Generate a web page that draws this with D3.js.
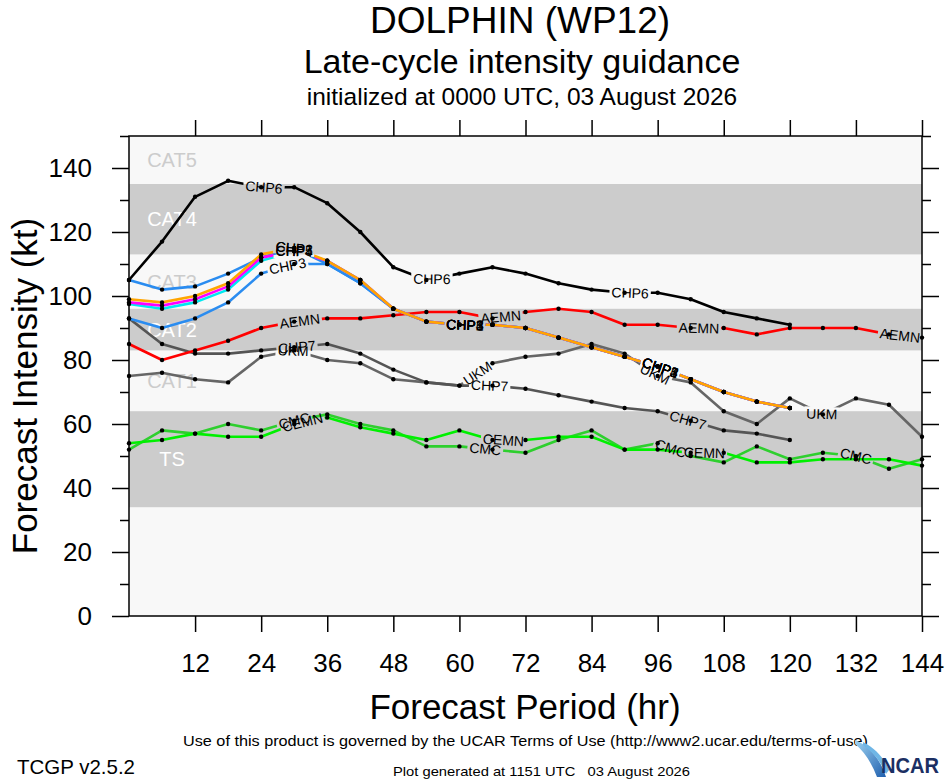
<!DOCTYPE html>
<html>
<head>
<meta charset="utf-8">
<script src="https://cdn.jsdelivr.net/npm/d3@7"></script>
<style>
	body { margin: 0; background: #fff; }
	svg { display: block; }
	text { font-family: "Liberation Sans", Arial, Helvetica, sans-serif; }
</style>
</head>
<body>
<div id="wrapper"></div>
<script>
// forecast hours (every 6 h)
const hours = [0, 6, 12, 18, 24, 30, 36, 42, 48, 54, 60, 66, 72, 78, 84, 90, 96, 102, 108, 114, 120, 126, 132, 138, 144];

// intensity guidance, kt
const chp6 = [105, 117, 131, 136, 134, 134, 129, 120, 109, 105, 107, 109, 107, 104, 102, 101, 101, 99, 95, 93, 91];
const aemn = [85, 80, 83, 86, 90, 92, 93, 93, 94, 95, 95, 93, 95, 96, 95, 91, 91, 90, 90, 88, 90, 90, 90, 88, 87];
const chp7 = [93, 85, 82, 82, 83, 84, 85, 82, 77, 73, 72, 72, 71, 69, 67, 65, 64, 61, 58, 57, 55];
const ukm = [75, 76, 74, 73, 81, 83, 80, 79, 74, 73, 72, 79, 81, 82, 85, 82, 75, 73, 64, 60, 68, 63, 68, 66, 56];
const chp1 = [105, 102, 103, 107, 112, 115, 110, 104, 96, 92, 91, 91, 90, 87, 84, 81, 78, 74, 70, 67, 65];
const chp2 = [99, 98, 100, 104, 113, 115, 111, 105, 96, 92, 91, 91, 90, 87, 84, 81, 78, 74, 70, 67, 65];
const chp3 = [93, 90, 93, 98, 107, 110, 110, 104, 96, 92, 91, 91, 90, 87, 84, 81, 78, 74, 70, 67, 65];
const chp4 = [98, 97, 99, 103, 112, 114, 111, 105, 96, 92, 91, 91, 90, 87, 84, 81, 78, 74, 70, 67, 65];
const chp5 = [97.5, 96, 98, 102, 111, 114, 111, 105, 96, 92, 91, 91, 90, 87, 84, 81, 78, 74, 70, 67, 65];
const cmc = [52, 58, 57, 60, 58, 61, 63, 60, 58, 53, 53, 52, 51, 55, 58, 52, 54, 50, 48, 53, 49, 51, 50, 46, 49];
const cemn = [54, 55, 57, 56, 56, 60, 62, 59, 57, 55, 58, 55, 55, 56, 56, 52, 52, 51, 51, 48, 48, 49, 49, 49, 47];

// where the model names sit along each line (hours)
const chp6Labels = [24.5, 55, 91];
const aemnLabels = [31, 67.5, 103.5, 140];
const chp7Labels = [30.5, 65.5, 101.5];
const ukmLabels = [29.8, 63.3, 95.5, 125.8];
const clusterLabels = [30, 61, 96.5];
const chp3Labels = [28.8, 61, 96.5];
const cmcLabels = [30, 64.7, 98.4, 132];
const cemnLabels = [31.5, 68, 104.5];

// Saffir-Simpson bands
const bandNames = ["TS", "CAT1", "CAT2", "CAT3", "CAT4", "CAT5"];
const bandLow = [34, 64, 83, 96, 113, 135];
const bandHigh = [64, 83, 96, 113, 135, 150];

const yMajor = [0, 20, 40, 60, 80, 100, 120, 140];
const yMinor = [10, 30, 50, 70, 90, 110, 130, 150];
const xMajor = [12, 24, 36, 48, 60, 72, 84, 96, 108, 120, 132, 144];

const models = [
	{ name: "CMC", values: cmc, color: "#2ecf2e", labelAt: cmcLabels },
	{ name: "CEMN", values: cemn, color: "#00f000", labelAt: cemnLabels },
	{ name: "UKM", values: ukm, color: "#666666", labelAt: ukmLabels },
	{ name: "CHP7", values: chp7, color: "#555555", labelAt: chp7Labels },
	{ name: "AEMN", values: aemn, color: "#ff0000", labelAt: aemnLabels },
	{ name: "CHP3", values: chp3, color: "#2a8cf0", labelAt: chp3Labels },
	{ name: "CHP1", values: chp1, color: "#2a8cf0", labelAt: clusterLabels },
	{ name: "CHP5", values: chp5, color: "#00e8f0", labelAt: clusterLabels },
	{ name: "CHP4", values: chp4, color: "#ff00ff", labelAt: clusterLabels },
	{ name: "CHP2", values: chp2, color: "#ffa500", labelAt: clusterLabels },
	{ name: "CHP6", values: chp6, color: "#000000", labelAt: chp6Labels },
];

const W = 946, H = 780;
const plot = { left: 129, right: 922, top: 136, bottom: 616 };
const labelSize = 14;

const svg = d3.select("#wrapper").append("svg")
	.attr("width", W)
	.attr("height", H);

const x = d3.scaleLinear().domain([0, 144]).range([plot.left, plot.right]);
const y = d3.scaleLinear().domain([0, 150]).range([plot.bottom, plot.top]);

// background + bands
svg.append("rect")
	.attr("x", plot.left).attr("y", plot.top)
	.attr("width", plot.right - plot.left).attr("height", plot.bottom - plot.top)
	.attr("fill", "#f8f8f8");

const bands = svg.append("g");
bandNames.forEach((b, i) => {
	const shaded = i % 2 === 0;
	if (shaded) {
		bands.append("rect")
			.attr("x", plot.left)
			.attr("y", y(bandHigh[i]))
			.attr("width", plot.right - plot.left)
			.attr("height", y(bandLow[i]) - y(bandHigh[i]))
			.attr("fill", "#cccccc");
	}
	bands.append("text")
		.attr("x", x(7.8))
		.attr("y", y((bandLow[i] + bandHigh[i]) / 2))
		.attr("dy", "0.36em")
		.attr("text-anchor", "middle")
		.attr("font-size", 20)
		.attr("fill", shaded ? "#ffffff" : "#cccccc")
		.text(b);
});

// position on a model's line at a fractional hour
function posAt(m, h) {
	const last = m.values.length - 1;
	h = Math.max(0, Math.min(h, hours[last]));
	let j = d3.bisectRight(hours, h) - 1;
	j = Math.max(0, Math.min(j, last - 1));
	const t = (h - hours[j]) / (hours[j + 1] - hours[j]);
	return [
		x(hours[j]) + t * (x(hours[j + 1]) - x(hours[j])),
		y(m.values[j]) + t * (y(m.values[j + 1]) - y(m.values[j]))
	];
}

const defs = svg.append("defs");
const measure = svg.append("text").attr("font-size", labelSize).attr("visibility", "hidden");

models.forEach(m => {
	m.pts = m.values.map((v, j) => [x(hours[j]), y(v)]);
	measure.text(m.name);
	m.textWidth = measure.node().getComputedTextLength();
	// follow the chord across the label's width
	const half = (m.textWidth / 2) / (x(6) - x(0)) * 6;
	m.labels = m.labelAt.map(h => {
		const [cxp, cyp] = posAt(m, h);
		const a = posAt(m, h - half), b = posAt(m, h + half);
		const angle = Math.atan2(b[1] - a[1], b[0] - a[0]) * 180 / Math.PI;
		return { x: cxp, y: cyp, angle: angle };
	});
});
measure.remove();

// masks so lines break under their labels
models.forEach((m, i) => {
	const w = m.textWidth;
	const mask = defs.append("mask")
		.attr("id", "mask" + i)
		.attr("maskUnits", "userSpaceOnUse")
		.attr("x", 0).attr("y", 0).attr("width", W).attr("height", H);
	mask.append("rect").attr("width", W).attr("height", H).attr("fill", "white");
	m.labels.forEach(l => {
		mask.append("rect")
			.attr("x", -w / 2 - 2).attr("y", -7)
			.attr("width", w + 4).attr("height", 14)
			.attr("fill", "black")
			.attr("transform", `translate(${l.x},${l.y}) rotate(${l.angle})`);
	});
});

const line = d3.line().x(d => d[0]).y(d => d[1]);

const lines = svg.append("g");
models.forEach((m, i) => {
	lines.append("path")
		.attr("d", line(m.pts))
		.attr("fill", "none")
		.attr("stroke", m.color)
		.attr("stroke-width", 2.6)
		.attr("stroke-linejoin", "round")
		.attr("mask", `url(#mask${i})`);
});

// data points
const dots = svg.append("g");
models.forEach(m => {
	dots.selectAll(null)
		.data(m.pts)
		.enter().append("circle")
		.attr("cx", d => d[0])
		.attr("cy", d => d[1])
		.attr("r", 2.2)
		.attr("fill", "#000");
});

// model name labels
const labelLayer = svg.append("g");
models.forEach(m => {
	m.labels.forEach(l => {
		labelLayer.append("text")
			.attr("transform", `translate(${l.x},${l.y}) rotate(${l.angle})`)
			.attr("text-anchor", "middle")
			.attr("dy", "0.36em")
			.attr("font-size", labelSize)
			.attr("fill", "#000")
			.text(m.name);
	});
});

// axes
function styleAxis(g) {
	g.select(".domain").remove();
	g.selectAll(".tick line").attr("stroke", "#000").attr("stroke-width", 1.5);
	g.selectAll(".tick text").attr("fill", "#000").attr("font-size", 26)
		.style("font-family", '"Liberation Sans", Arial, Helvetica, sans-serif');
}

svg.append("g").attr("transform", `translate(${plot.left},0)`)
	.call(d3.axisLeft(y).tickValues(yMajor).tickSize(17).tickPadding(20).tickFormat(d3.format("d")))
	.call(styleAxis);
svg.append("g").attr("transform", `translate(${plot.left},0)`)
	.call(d3.axisLeft(y).tickValues(yMinor).tickSize(9).tickFormat(""))
	.call(styleAxis);
svg.append("g").attr("transform", `translate(${plot.right},0)`)
	.call(d3.axisRight(y).tickValues(yMajor).tickSize(17).tickFormat(""))
	.call(styleAxis);
svg.append("g").attr("transform", `translate(${plot.right},0)`)
	.call(d3.axisRight(y).tickValues(yMinor).tickSize(9).tickFormat(""))
	.call(styleAxis);
svg.append("g").attr("transform", `translate(0,${plot.bottom})`)
	.call(d3.axisBottom(x).tickValues(xMajor).tickSize(16).tickPadding(22).tickFormat(d3.format("d")))
	.call(styleAxis);
svg.append("g").attr("transform", `translate(0,${plot.top})`)
	.call(d3.axisTop(x).tickValues(xMajor).tickSize(16).tickFormat(""))
	.call(styleAxis);

// frame
svg.append("rect")
	.attr("x", plot.left).attr("y", plot.top)
	.attr("width", plot.right - plot.left).attr("height", plot.bottom - plot.top)
	.attr("fill", "none").attr("stroke", "#000").attr("stroke-width", 1.5);

// titles
const cx = 522;
svg.append("text").attr("x", 520).attr("y", 33).attr("text-anchor", "middle")
	.attr("font-size", 37).text("DOLPHIN (WP12)");
svg.append("text").attr("x", cx).attr("y", 73).attr("text-anchor", "middle")
	.attr("font-size", 34).text("Late-cycle intensity guidance");
svg.append("text").attr("x", cx).attr("y", 105).attr("text-anchor", "middle")
	.attr("font-size", 24.5).text("initialized at 0000 UTC, 03 August 2026");

svg.append("text").attr("x", 525).attr("y", 719).attr("text-anchor", "middle")
	.attr("font-size", 35).text("Forecast Period (hr)");
svg.append("text")
	.attr("transform", "translate(37,386) rotate(-90)")
	.attr("text-anchor", "middle")
	.attr("font-size", 35).text("Forecast Intensity (kt)");

// footer
svg.append("text").attr("x", 183).attr("y", 746)
	.attr("font-size", 14.5).attr("textLength", 685).attr("lengthAdjust", "spacingAndGlyphs")
	.text("Use of this product is governed by the UCAR Terms of Use (http://www2.ucar.edu/terms-of-use)");
svg.append("text").attr("x", 17).attr("y", 774)
	.attr("font-size", 21).attr("textLength", 118).attr("lengthAdjust", "spacingAndGlyphs")
	.text("TCGP v2.5.2");
svg.append("text").attr("x", 393).attr("y", 776)
	.attr("font-size", 13).attr("textLength", 297).attr("lengthAdjust", "spacingAndGlyphs")
	.attr("xml:space", "preserve")
	.text("Plot generated at 1151 UTC   03 August 2026");

// NCAR logo
const logo = svg.append("g");
const grad = defs.append("linearGradient").attr("id", "ncarGrad")
	.attr("x1", 0).attr("y1", 0).attr("x2", 1).attr("y2", 1);
grad.append("stop").attr("offset", 0).attr("stop-color", "#9fd4f2");
grad.append("stop").attr("offset", 1).attr("stop-color", "#1f5fae");
logo.append("path")
	.attr("d", "M855,740 C869,746 880,758 886,777 L877,777 C872,764 865,752 855,744 Z")
	.attr("fill", "url(#ncarGrad)");
logo.append("path")
	.attr("d", "M863,742 C875,748 884,758 889,770 L886,774 C881,762 873,752 863,745 Z")
	.attr("fill", "#6fb6e6");
logo.append("text").attr("x", 881).attr("y", 773)
	.attr("font-size", 22).attr("font-weight", "bold")
	.attr("textLength", 58).attr("lengthAdjust", "spacingAndGlyphs")
	.attr("fill", "#1b2f63")
	.text("NCAR");
</script>
</body>
</html>
